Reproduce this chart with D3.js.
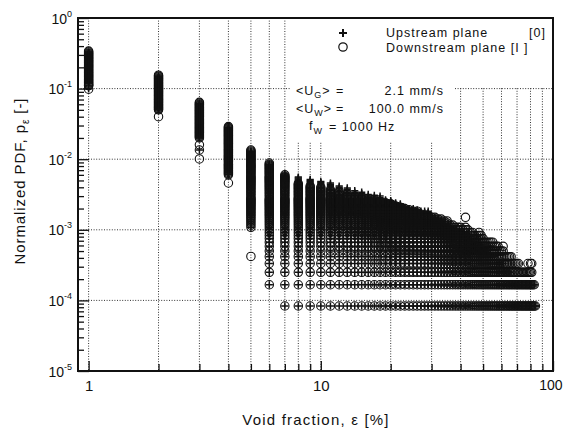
<!DOCTYPE html>
<html lang="en">
  <head>
    <meta charset="UTF-8" />
    <title>Normalized PDF vs void fraction</title>
    <script src="https://d3js.org/d3.v7.min.js"></script>
    <style>
      body { margin: 0; background: #fff; }
      svg { display: block; font-family: "Liberation Sans", Arial, sans-serif; }
      .grid line { stroke: #333; stroke-width: 1; stroke-dasharray: 1, 1.6; }
      .axis path { display: none; }
      .axis line { stroke: #111; stroke-width: 1.3; }
    </style>
  </head>
  <body>
    <svg width="563" height="428"></svg>
    <script>
      // void fraction columns [%]
      const eps = [1, 2, 3, 4, 5, 6, 7, 8, 9, 10,
        11, 12, 13, 14, 15, 16, 17, 18, 19, 20,
        21, 22, 23, 24, 25, 26, 27, 28, 29, 30,
        31, 32, 33, 34, 35, 36, 37, 38, 39, 40,
        41, 42, 43, 44, 45, 46, 47, 48, 49, 50,
        51, 52, 53, 54, 55, 56, 57, 58, 59, 60,
        61, 62, 63, 64, 65, 66, 67, 68, 69, 70,
        71, 72, 73, 74, 75, 76, 77, 78, 79, 80,
        81, 82, 83, 84];

      // top of each column, upstream plane [0]
      const upMax = [0.33, 0.15, 0.062, 0.028, 0.013, 0.0085, 0.0062, 0.0056, 0.0052, 0.0048,
        0.0046, 0.0042, 0.0039, 0.0036, 0.0034, 0.0032, 0.0031, 0.003, 0.0027, 0.0026,
        0.0024, 0.0023, 0.0021, 0.002, 0.002, 0.0019, 0.0018, 0.0018, 0.0018, 0.0016,
        0.0015, 0.0014, 0.0013, 0.0012, 0.0011, 0.0011, 0.001, 0.001, 0.0009, 0.0009,
        0.0008, 0.0008, 0.0008, 0.0007, 0.0007, 0.0007, 0.0006, 0.0006, 0.0006, 0.0005,
        0.0005, 0.0005, 0.00045, 0.00045, 0.0004, 0.0004, 0.00035, 0.00035, 0.0003, 0.0003,
        0.0003, 0.00025, 0.00025, 0.00025, 0.00025, 0.0002, 0.0002, 0.0002, 0.0002, 0.00017,
        0.00017, 0.00017, 0.00017, 0.00017, 0.00017, 0.00017, 0.00017, 0.00017, 0.00017, 0.00017,
        0.00017, 0.00017, 0.00017, 0.000083];

      // top of each column, downstream plane [I]
      const downMax = [0.34, 0.155, 0.064, 0.029, 0.0135, 0.0088, 0.006, 0.0045, 0.0042, 0.004,
        0.0037, 0.0035, 0.0032, 0.003, 0.0028, 0.0027, 0.0026, 0.0025, 0.0024, 0.0023,
        0.0022, 0.0021, 0.002, 0.0019, 0.0018, 0.0018, 0.0017, 0.0016, 0.0016, 0.0015,
        0.0015, 0.0014, 0.0014, 0.0013, 0.0013, 0.0012, 0.0012, 0.0011, 0.0011, 0.0011,
        0.001, 0.0011, 0.001, 0.0009, 0.0009, 0.00085, 0.00085, 0.00095, 0.0008, 0.00075,
        0.0007, 0.0007, 0.00065, 0.00065, 0.0007, 0.0006, 0.0006, 0.00055, 0.0005, 0.0005,
        0.00055, 0.00045, 0.00045, 0.0004, 0.0004, 0.00042, 0.00035, 0.00035, 0.00033, 0.00035,
        0.0003, 0.00025, 0.00025, 0.00025, 0.00025, 0.00025, 0.00025, 0.0003, 0.00025, 0.00033,
        0.00033, 0.00017, 0.00017, 0.000083];

      // bottom of the dense part for the first columns; the rest reach one count
      const upLow = [0.12, 0.05, 0.02, 0.006, 0.0011, 0.000167];
      const downLow = [0.11, 0.05, 0.02, 0.006, 0.0011, 0.000167];
      const COUNT = 1 / 12000; // pdf value of a single count

      // isolated markers below / above the columns
      const extraEps = [1, 1, 2, 3, 3, 3, 3, 4, 5, 42];
      const extraP = [0.098, 0.1, 0.04, 0.016, 0.0135, 0.0135, 0.0101, 0.0046, 0.00042, 0.0015];
      const extraSeries = ["down", "up", "down", "down", "down", "up", "down", "down", "down", "down"];

      const yDecades = [1, 1e-1, 1e-2, 1e-3, 1e-4, 1e-5];
      const yExp = ["0", "-1", "-2", "-3", "-4", "-5"];
      const xGrid = [1, 2, 3, 4, 5, 6, 7, 8, 9, 10, 20, 30, 40, 50, 60, 70, 80, 90];
      const xLabels = [1, 10, 100];

      const svg = d3.select("svg");
      const MARGIN = { TOP: 18, BOTTOM: 57, LEFT: 78, RIGHT: 10 };
      const WIDTH = +svg.attr("width") - MARGIN.LEFT - MARGIN.RIGHT;
      const HEIGHT = +svg.attr("height") - MARGIN.TOP - MARGIN.BOTTOM;

      const X = d3.scaleLog().domain([0.9, 100]).range([0, WIDTH]);
      const Y = d3.scaleLog().domain([1e-5, 1]).range([HEIGHT, 0]);

      const g = svg.append("g")
        .attr("transform", `translate(${MARGIN.LEFT}, ${MARGIN.TOP})`);

      // dotted grid
      const grid = g.append("g").attr("class", "grid");
      grid.selectAll(".gx").data(xGrid).enter().append("line")
        .attr("x1", d => X(d)).attr("x2", d => X(d))
        .attr("y1", 0).attr("y2", HEIGHT);
      grid.selectAll(".gy").data(yDecades.slice(1, 5)).enter().append("line")
        .attr("x1", 0).attr("x2", WIDTH)
        .attr("y1", d => Y(d)).attr("y2", d => Y(d));

      // white box behind the legend
      g.append("rect").attr("x", 212).attr("y", 0).attr("width", WIDTH - 212).attr("height", 69).attr("fill", "#fff");
      g.append("rect").attr("x", 212).attr("y", 0).attr("width", 165).attr("height", 124).attr("fill", "#fff");

      // axes: ticks point inward
      const yMinor = [];
      yDecades.slice(1).forEach(d => { for (let m = 2; m <= 9; m++) yMinor.push(d * m); });
      g.append("g").attr("class", "axis")
        .call(d3.axisLeft(Y).tickValues(yMinor).tickSize(-6).tickFormat(""));
      const yAx = g.append("g").attr("class", "axis")
        .call(d3.axisLeft(Y).tickValues(yDecades).tickSize(-11).tickFormat(""));
      yAx.selectAll(".tick").append("text")
        .attr("x", -6).attr("y", 5).attr("fill", "#111")
        .attr("text-anchor", "end").style("font-size", "14px")
        .each(function (d, i) {
          const t = d3.select(this);
          t.append("tspan").text("10");
          t.append("tspan").attr("dy", -7).style("font-size", "9px").text(yExp[i]);
        });

      const xMinor = xGrid.filter(d => d !== 1 && d !== 10);
      g.append("g").attr("class", "axis")
        .attr("transform", `translate(0, ${HEIGHT})`)
        .call(d3.axisBottom(X).tickValues(xMinor).tickSize(-7).tickFormat(""));
      const xAx = g.append("g").attr("class", "axis")
        .attr("transform", `translate(0, ${HEIGHT})`)
        .call(d3.axisBottom(X).tickValues(xLabels).tickSize(-10).tickFormat(d3.format("d")));
      xAx.selectAll("text").attr("fill", "#111").attr("y", 9).style("font-size", "15px");
      // last label sits against the window edge
      xAx.selectAll("text").filter(d => d === 100)
        .attr("text-anchor", "end").attr("x", 9).style("font-size", "14px");

      // build marker list: one mark per count level inside each column
      function columnPoints(maxArr, lowArr, series) {
        const pts = [];
        eps.forEach((e, i) => {
          const low = i < lowArr.length ? lowArr[i] : COUNT;
          const kTop = Math.round(maxArr[i] / COUNT);
          const kLow = Math.max(1, Math.round(low / COUNT));
          let lastY = -1e9;
          for (let k = kTop; k >= kLow; k--) {
            const yy = Y(k * COUNT);
            if (k === kLow || yy - lastY >= 0.9) {
              pts.push({ eps: e, p: k * COUNT, series });
              lastY = yy;
            }
          }
        });
        return pts;
      }
      const downPts = columnPoints(downMax, downLow, "down");
      const upPts = columnPoints(upMax, upLow, "up");
      extraEps.forEach((e, i) => {
        (extraSeries[i] === "up" ? upPts : downPts).push({ eps: e, p: extraP[i] });
      });

      const marks = g.append("g");
      marks.selectAll("circle").data(downPts).enter().append("circle")
        .attr("cx", d => X(d.eps)).attr("cy", d => Y(d.p)).attr("r", 4.2)
        .attr("fill", "none").attr("stroke", "#111").attr("stroke-width", 1.1);
      marks.selectAll(".up").data(upPts).enter().append("path")
        .attr("class", "up")
        .attr("d", "M-3.6,0H3.6M0,-3.6V3.6")
        .attr("transform", d => `translate(${X(d.eps)}, ${Y(d.p)})`)
        .attr("stroke", "#111").attr("stroke-width", 1.5).attr("fill", "none");

      // frame
      g.append("rect").attr("width", WIDTH).attr("height", HEIGHT)
        .attr("fill", "none").attr("stroke", "#111").attr("stroke-width", 2);

      // legend
      const leg = svg.append("g").attr("fill", "#111")
        .style("font-size", "12.5px").style("letter-spacing", "1px");
      leg.append("path").attr("d", "M339,33H347M343,29V37").attr("stroke", "#111").attr("stroke-width", 2);
      leg.append("circle").attr("cx", 343).attr("cy", 47).attr("r", 4.2)
        .attr("fill", "none").attr("stroke", "#111").attr("stroke-width", 1.2);
      leg.append("text").attr("x", 386).attr("y", 37).text("Upstream plane");
      leg.append("text").attr("x", 529).attr("y", 37).text("[0]");
      leg.append("text").attr("x", 386).attr("y", 52).text("Downstream plane [I ]");

      const ug = leg.append("text").attr("x", 296).attr("y", 95);
      ug.append("tspan").text("<U");
      ug.append("tspan").attr("dy", 3).style("font-size", "9px").text("G");
      ug.append("tspan").attr("dy", -3).text(">");
      leg.append("text").attr("x", 336).attr("y", 95).text("=");
      leg.append("text").attr("x", 444).attr("y", 95).attr("text-anchor", "end").text("2.1 mm/s");

      const uw = leg.append("text").attr("x", 296).attr("y", 113);
      uw.append("tspan").text("<U");
      uw.append("tspan").attr("dy", 3).style("font-size", "9px").text("W");
      uw.append("tspan").attr("dy", -3).text(">");
      leg.append("text").attr("x", 336).attr("y", 113).text("=");
      leg.append("text").attr("x", 444).attr("y", 113).attr("text-anchor", "end").text("100.0 mm/s");

      const fw = leg.append("text").attr("x", 309).attr("y", 130);
      fw.append("tspan").text("f");
      fw.append("tspan").attr("dy", 4).style("font-size", "9px").text("W");
      leg.append("text").attr("x", 329).attr("y", 131).text("= 1000  Hz");

      // axis titles
      svg.append("text").attr("x", 316).attr("y", 425).attr("text-anchor", "middle")
        .attr("fill", "#111").style("font-size", "15px").style("letter-spacing", "1.2px")
        .text("Void fraction, ε [%]");
      const yt = svg.append("text")
        .attr("transform", "translate(25, 181) rotate(-90)")
        .attr("text-anchor", "middle").attr("fill", "#111")
        .style("font-size", "15px").style("letter-spacing", "0.9px");
      yt.append("tspan").text("Normalized PDF, p");
      yt.append("tspan").attr("dy", 4).style("font-size", "10px").text("ε");
      yt.append("tspan").attr("dy", -4).text(" [-]");
    </script>
  </body>
</html>
